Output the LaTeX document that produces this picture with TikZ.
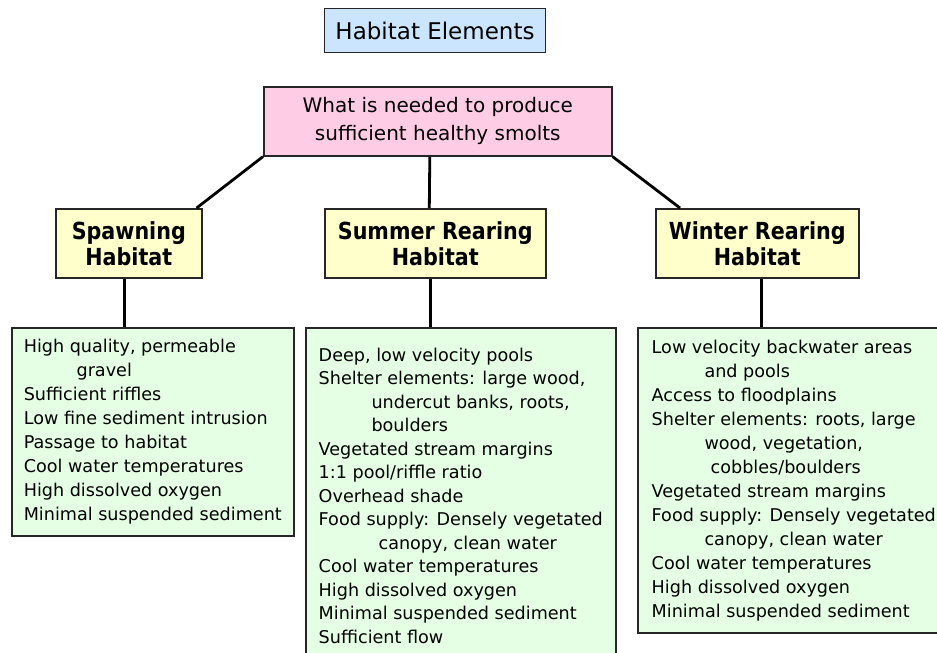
\documentclass[tikz,border=0pt]{standalone}
\usepackage{fontspec}
\setmainfont{DejaVu Sans}
\newfontfamily\headfont{DejaVu Sans}[FakeStretch=0.88]
\usetikzlibrary{positioning}
\definecolor{titleblue}{RGB}{204,229,255}
\definecolor{needpink}{RGB}{255,204,229}
\definecolor{headyellow}{RGB}{255,255,204}
\definecolor{listgreen}{RGB}{229,255,229}
\newcommand\habind{\hspace*{3em}}
\tikzset{
  habbox/.style={draw=black!85, line width=1.6pt, inner sep=0pt, anchor=north west},
  habhead/.style={habbox, fill=headyellow, align=center, minimum height=69,
    font=\headfont\bfseries\fontsize{23.5}{26}\selectfont},
  hablist/.style={habbox, fill=listgreen, align=left,
    font=\fontsize{17.6}{24}\selectfont},
  habline/.style={line width=2.8pt}
}

\begin{document}
\begin{tikzpicture}[x=1pt, y=-1pt]
\useasboundingbox (0,0) rectangle (937,653);
\clip (0,0) rectangle (937,653);

% top of the tree
\node[habbox, fill=titleblue, line width=1pt, minimum width=221, minimum height=44,
  font=\fontsize{23}{28}\selectfont] (title) at (324,8) {Habitat Elements};
\node[habbox, fill=needpink, align=center, minimum width=348, minimum height=69,
  font=\fontsize{20}{28}\selectfont] (need) at (263,86)
  {What is needed to produce\\sufficient healthy smolts};

% the three habitats
\node[habhead, minimum width=146] (spawnhead) at (55,208) {Spawning\\Habitat};
\node[habhead, minimum width=221] (sumhead) at (324,208) {Summer Rearing\\Habitat};
\node[habhead, minimum width=203] (winthead) at (655,208) {Winter Rearing\\Habitat};

% what each one needs
\node[hablist, minimum width=282, minimum height=208] (spawnlist) at (11,327)
  {High quality, permeable\\
   \habind gravel\\
   Sufficient riffles\\
   Low fine sediment intrusion\\
   Passage to habitat\\
   Cool water temperatures\\
   High dissolved oxygen\\
   Minimal suspended sediment};
\node[hablist, minimum width=310, minimum height=336,
  font=\fontsize{17.6}{23.5}\selectfont] (sumlist) at (305,327)
  {Deep, low velocity pools\\
   Shelter elements: large wood,\\
   \habind undercut banks, roots,\\
   \habind boulders\\
   Vegetated stream margins\\
   1:1 pool/riffle ratio\\
   Overhead shade\\
   Food supply: Densely vegetated\\
   \habind\hspace*{0.4em}canopy, clean water\\
   Cool water temperatures\\
   High dissolved oxygen\\
   Minimal suspended sediment\\
   Sufficient flow};
\node[hablist, minimum width=312, minimum height=305] (wintlist) at (637,327)
  {Low velocity backwater areas\\
   \habind and pools\\
   Access to floodplains\\
   Shelter elements: roots, large\\
   \habind wood, vegetation,\\
   \habind\hspace*{0.35em}cobbles/boulders\\
   Vegetated stream margins\\
   Food supply: Densely vegetated\\
   \habind canopy, clean water\\
   Cool water temperatures\\
   High dissolved oxygen\\
   Minimal suspended sediment};

% connectors
\draw[habline] (need.south west) -- ([xshift=-6pt]spawnhead.north east);
\draw[habline] ([xshift=-8pt]need.south) -- ([xshift=-6pt]sumhead.north);
\draw[habline] (need.south east) -- ([xshift=25pt]winthead.north west);
\draw[habline] ([xshift=-4pt]spawnhead.south) -- ([xshift=-4pt]spawnhead.south |- spawnlist.north);
\draw[habline] ([xshift=-5pt]sumhead.south) -- ([xshift=-5pt]sumhead.south |- sumlist.north);
\draw[habline] ([xshift=4pt]winthead.south) -- ([xshift=4pt]winthead.south |- wintlist.north);
\end{tikzpicture}
\end{document}
